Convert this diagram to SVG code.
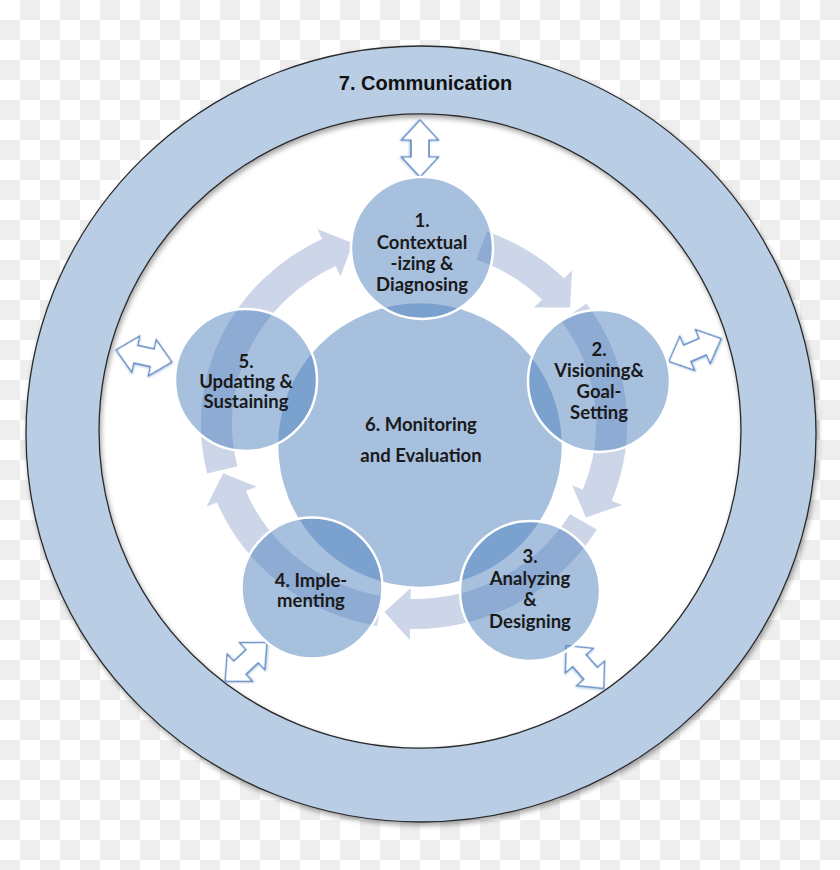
<svg xmlns="http://www.w3.org/2000/svg" width="840" height="870" viewBox="0 0 840 870">
<defs>
<pattern id="chk" width="40" height="40" patternUnits="userSpaceOnUse"><rect width="40" height="40" fill="#fff"/><rect x="20" width="20" height="20" fill="#eee"/><rect y="20" width="20" height="20" fill="#eee"/></pattern>
<filter id="sh" x="-5%" y="-5%" width="110%" height="112%"><feDropShadow dx="1.5" dy="3" stdDeviation="2.5" flood-color="#000" flood-opacity="0.35"/></filter>
<filter id="gl" x="-30%" y="-30%" width="160%" height="160%"><feDropShadow dx="0.5" dy="1" stdDeviation="1.2" flood-color="#4f81bd" flood-opacity="0.45"/></filter>
<path id="dbl" d="M-28.5,0 L-8.5,-18.5 L-8.5,-9 L8.5,-9 L8.5,-18.5 L28.5,0 L8.5,18.5 L8.5,9 L-8.5,9 L-8.5,18.5 Z"/>
</defs>
<style>
.node{fill:#4f81bd;fill-opacity:0.5;stroke:#fff;stroke-width:2.5}
.band{fill:#cdd5e8}
.dbl{fill:#fff;stroke:#5a87c2;stroke-width:1.3;filter:url(#gl)}
.t{font-family:Lato,"Open Sans","DejaVu Sans",sans-serif;font-weight:bold;font-size:18.5px;fill:#1a1a1a;text-anchor:middle}
.title{font-family:"Liberation Sans",Arial,sans-serif;font-weight:bold;font-size:20px;fill:#111;text-anchor:middle}
</style>
<rect width="840" height="870" fill="url(#chk)"/>
<g id="node-7">
<ellipse cx="420" cy="431" rx="321" ry="317" fill="#fff"/>
<path d="M26,434 A395,388 0 1,0 816,434 A395,388 0 1,0 26,434 Z M99,431 A321,317 0 1,1 741,431 A321,317 0 1,1 99,431 Z" fill="#b9cde5" fill-rule="evenodd" stroke="#2b2b2b" stroke-width="1.3" filter="url(#sh)"/>
<text class="title" x="425.5" y="90">7. Communication</text>
</g>
<g id="connectors">
<g transform="translate(414,424) scale(1.04,1)">
<path class="band" d="M70.1,-192.6 A205,205 0 0,1 144.2,-145.7 L151.9,-153.5 L150.1,-116.5 L115.4,-116.6 L123.1,-124.4 A175,175 0 0,0 59.9,-164.4 Z"/>
<path class="band" d="M165.8,-120.5 A205,205 0 0,1 190.1,76.8 L200.3,80.9 L165.4,93.6 L152.1,61.4 L162.3,65.6 A175,175 0 0,0 141.6,-102.9 Z"/>
<path class="band" d="M175.7,105.6 A205,205 0 0,1 -3.9,205 L-4.1,216 L-28.4,187.9 L-3.1,164 L-3.4,175 A175,175 0 0,0 150,90.1 Z"/>
<path class="band" d="M-35.6,201.9 A205,205 0 0,1 -189.4,78.5 L-199.6,82.7 L-183.5,49.2 L-151.5,62.8 L-161.7,67 A175,175 0 0,0 -30.4,172.3 Z"/>
<path class="band" d="M-198.9,49.6 A205,205 0 0,1 -88.3,-185 L-93,-195 L-58.7,-180.7 L-70.6,-148 L-75.3,-158 A175,175 0 0,0 -169.8,42.3 Z"/>
</g>
<use href="#dbl" class="dbl" transform="translate(420,148.5) rotate(90)"/>
<use href="#dbl" class="dbl" transform="translate(695,350) rotate(-23.5)"/>
<use href="#dbl" class="dbl" transform="translate(144,356) rotate(12.3)"/>
<use href="#dbl" class="dbl" transform="translate(585,667) rotate(48.7)"/>
<use href="#dbl" class="dbl" transform="translate(246,662) rotate(-42.9)"/>
</g>
<g id="node-6">
<circle class="node" cx="420" cy="445" r="143"/>
<text class="t" x="421" y="431">6. Monitoring</text>
<text class="t" x="421" y="462">and Evaluation</text>
</g>
<g id="node-1">
<circle class="node" cx="422" cy="248" r="71"/>
<text class="t" x="422" y="227">1.</text>
<text class="t" x="422" y="249">Contextual</text>
<text class="t" x="422" y="270">-izing &amp;</text>
<text class="t" x="422" y="291">Diagnosing</text>
</g>
<g id="node-2">
<circle class="node" cx="599" cy="381" r="71"/>
<text class="t" x="599" y="356">2.</text>
<text class="t" x="599" y="377">Visioning&amp;</text>
<text class="t" x="599" y="398">Goal-</text>
<text class="t" x="599" y="419">Setting</text>
</g>
<g id="node-3">
<circle class="node" cx="530" cy="591" r="70"/>
<text class="t" x="530" y="563">3.</text>
<text class="t" x="530" y="584.5">Analyzing</text>
<text class="t" x="530" y="606">&amp;</text>
<text class="t" x="530" y="627.5">Designing</text>
</g>
<g id="node-4">
<circle class="node" cx="312" cy="588" r="70.5"/>
<text class="t" x="311" y="587">4. Imple-</text>
<text class="t" x="311" y="607">menting</text>
</g>
<g id="node-5">
<circle class="node" cx="246" cy="380" r="71"/>
<text class="t" x="246" y="368">5.</text>
<text class="t" x="246" y="388">Updating &amp;</text>
<text class="t" x="246" y="408">Sustaining</text>
</g>
</svg>
